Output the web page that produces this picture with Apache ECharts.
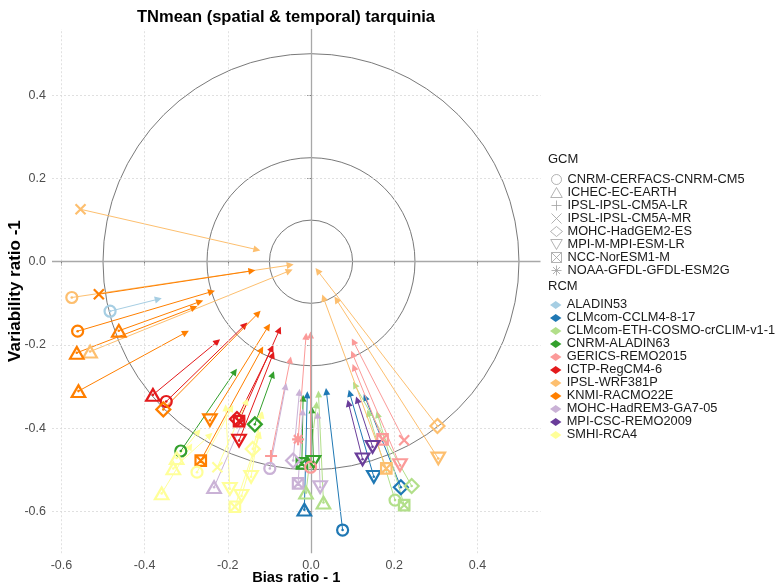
<!DOCTYPE html>
<html><head><meta charset="utf-8">
<script src="https://cdn.jsdelivr.net/npm/echarts@6/dist/echarts.min.js"></script>
<style>html,body{margin:0;padding:0;background:#fff}#c{width:780px;height:585px}</style>
</head><body><div id="c"></div>
<script>
const rcmNames = ['ALADIN53','CLMcom-CCLM4-8-17','CLMcom-ETH-COSMO-crCLIM-v1-1','CNRM-ALADIN63','GERICS-REMO2015','ICTP-RegCM4-6','IPSL-WRF381P','KNMI-RACMO22E','MOHC-HadREM3-GA7-05','MPI-CSC-REMO2009','SMHI-RCA4'];
const gcmNames = ['CNRM-CERFACS-CNRM-CM5','ICHEC-EC-EARTH','IPSL-IPSL-CM5A-LR','IPSL-IPSL-CM5A-MR','MOHC-HadGEM2-ES','MPI-M-MPI-ESM-LR','NCC-NorESM1-M','NOAA-GFDL-GFDL-ESM2G'];
const rcmColors = ['#A6CEE3','#1F78B4','#B2DF8A','#33A02C','#FB9A99','#E31A1C','#FDBF6F','#FF7F00','#CAB2D6','#6A3D9A','#FFFF99'];

// one entry per simulation
const runRcm    = [6,6,7,6,0,7,7,7,7,5,5,7,7,7,5,5,5,3,3,3,3,4,4,4,4,4,4,8,8,8,8,8,1,1,1,1,9,9,2,2,2,2,2,6,6,6,10,10,10,10,10,10,10,10,10,10];
const runGcm    = [3,0,3,1,0,0,1,1,1,1,0,4,5,6,6,4,5,0,4,6,5,2,7,0,6,3,5,1,0,4,6,5,1,0,5,4,5,5,1,1,4,0,6,4,5,6,1,1,1,0,3,5,5,5,4,6];
const biasStart = [-0.554,-0.575,-0.510,-0.531,-0.483,-0.561,-0.462,-0.563,-0.559,-0.380,-0.348,-0.355,-0.243,-0.265,-0.173,-0.178,-0.173,-0.313,-0.135,-0.022,0.006,-0.096,-0.031,-0.001,0.172,0.224,0.214,-0.233,-0.099,-0.043,-0.031,0.022,-0.016,0.076,0.151,0.216,0.124,0.148,-0.012,0.030,0.242,0.202,0.224,0.304,0.306,0.181,-0.359,-0.331,-0.323,-0.274,-0.225,-0.195,-0.167,-0.144,-0.140,-0.183];
const varStart  = [0.126,-0.086,-0.078,-0.216,-0.119,-0.167,-0.166,-0.219,-0.311,-0.320,-0.336,-0.355,-0.381,-0.478,-0.383,-0.378,-0.430,-0.455,-0.391,-0.485,-0.481,-0.467,-0.427,-0.494,-0.427,-0.429,-0.489,-0.542,-0.497,-0.478,-0.533,-0.542,-0.596,-0.645,-0.517,-0.542,-0.475,-0.445,-0.555,-0.579,-0.539,-0.573,-0.585,-0.395,-0.473,-0.497,-0.557,-0.497,-0.472,-0.506,-0.494,-0.546,-0.563,-0.517,-0.450,-0.589];
const biasEnd   = [-0.130,-0.050,-0.142,-0.052,-0.367,-0.239,-0.267,-0.281,-0.301,-0.225,-0.159,-0.127,-0.103,-0.119,-0.076,-0.094,-0.092,-0.183,-0.092,-0.019,0.002,-0.050,-0.012,-0.001,0.103,0.102,0.100,-0.163,-0.061,-0.028,-0.020,0.016,-0.009,0.037,0.093,0.130,0.090,0.111,0.013,0.018,0.105,0.138,0.160,0.016,0.061,0.030,-0.290,-0.243,-0.271,-0.191,-0.155,-0.205,-0.124,-0.120,-0.118,-0.125];
const varEnd    = [0.029,-0.008,-0.022,-0.022,-0.090,-0.072,-0.096,-0.110,-0.170,-0.192,-0.152,-0.124,-0.156,-0.211,-0.164,-0.208,-0.224,-0.264,-0.271,-0.328,-0.356,-0.236,-0.179,-0.176,-0.254,-0.192,-0.222,-0.381,-0.300,-0.314,-0.361,-0.369,-0.320,-0.312,-0.316,-0.326,-0.340,-0.332,-0.344,-0.318,-0.296,-0.364,-0.367,-0.022,-0.091,-0.087,-0.444,-0.417,-0.409,-0.352,-0.336,-0.351,-0.416,-0.368,-0.368,-0.416];

const circleRadii = [0.1, 0.25, 0.5];
const xTicks = [-0.6, -0.4, -0.2, 0.0, 0.2, 0.4];
const yTicks = [-0.6, -0.4, -0.2, 0.0, 0.2, 0.4];

const gcmSymbols = [
  'circle',
  'path://M5,0L10,8.66L0,8.66Z',
  'path://M5,0V10M0,5H10',
  'path://M0,0L10,10M10,0L0,10',
  'diamond',
  'path://M0,0L10,0L5,8.66Z',
  'path://M0,0H10V10H0ZM0,0L10,10M10,0L0,10',
  'path://M5,0V10M0,5H10M1.5,1.5L8.5,8.5M8.5,1.5L1.5,8.5'
];
const gcmSizes = [11, [13.5, 11.7], 12, 10, 14, [13.5, 11.7], 10.5, 12];

const chart = echarts.init(document.getElementById('c'), null, {renderer: 'canvas'});
const series = [];

series.push({
  type: 'scatter', data: [], silent: true, z: 1,
  markLine: {
    silent: true, symbol: ['none', 'none'], label: {show: false},
    lineStyle: {color: '#d9d9d9', type: [2, 2], width: 0.8},
    emphasis: {disabled: true},
    data: xTicks.filter(v => v !== 0).map(v => ({xAxis: v})).concat(yTicks.filter(v => v !== 0).map(v => ({yAxis: v})))
  }
});
series.push({
  type: 'scatter', data: [], silent: true, z: 2,
  markLine: {
    silent: true, symbol: ['none', 'none'], label: {show: false},
    lineStyle: {color: '#a8a8a8', type: 'solid', width: 1.3},
    emphasis: {disabled: true},
    data: [{xAxis: 0}, {yAxis: 0}]
  }
});
series.push({
  type: 'custom', silent: true, z: 3,
  data: circleRadii.map(r => [r]),
  encode: {x: -1, y: -1},
  renderItem: (params, api) => {
    const r = api.value(0);
    const c = api.coord([0, 0]);
    const e = api.coord([r, 0]);
    return {type: 'circle', shape: {cx: c[0], cy: c[1], r: e[0] - c[0]},
            style: {fill: 'none', stroke: '#6a6a6a', lineWidth: 0.9}};
  }
});

gcmNames.forEach((g, i) => {
  series.push({type: 'scatter', name: g, data: [], silent: true});
});

rcmNames.forEach((name, k) => {
  const idx = runRcm.map((r, i) => r === k ? i : -1).filter(i => i >= 0);
  series.push({
    type: 'lines', name: name, coordinateSystem: 'cartesian2d', z: 4, silent: true,
    symbol: ['none', 'triangle'], symbolSize: 7,
    lineStyle: {color: rcmColors[k], width: 1, opacity: 1},
    data: idx.map(i => ({coords: [[biasStart[i], varStart[i]], [biasEnd[i], varEnd[i]]]}))
  });
  series.push({
    type: 'scatter', name: name, z: 5, silent: true,
    itemStyle: {color: 'rgba(255,255,255,0)', borderColor: rcmColors[k], borderWidth: 2.2, opacity: 1},
    data: idx.map(i => ({value: [biasStart[i], varStart[i]], symbol: gcmSymbols[runGcm[i]], symbolSize: gcmSizes[runGcm[i]]}))
  });
  series.push({
    type: 'scatter', name: name, z: 6, silent: true,
    symbol: 'circle', symbolSize: 2.6,
    itemStyle: {color: rcmColors[k], opacity: 1},
    data: idx.map(i => [biasStart[i], varStart[i]])
  });
});

const option = {
  animation: false,
  backgroundColor: '#ffffff',
  title: [
    {text: 'TNmean (spatial & temporal) tarquinia', left: 286, top: 9, textAlign: 'center', padding: 0,
     textStyle: {fontFamily: 'Liberation Sans', fontSize: 16.5, fontWeight: 'bold', color: '#000'}},
    {text: 'GCM', left: 548, top: 153, padding: 0,
     textStyle: {fontFamily: 'Liberation Sans', fontSize: 13, fontWeight: 'normal', color: '#1a1a1a'}},
    {text: 'RCM', left: 548, top: 280, padding: 0,
     textStyle: {fontFamily: 'Liberation Sans', fontSize: 13, fontWeight: 'normal', color: '#1a1a1a'}}
  ],
  grid: {left: 52, top: 29, width: 488.5, height: 524.2, containLabel: false, outerBoundsMode: 'none'},
  xAxis: {
    type: 'value', min: -0.6226, max: 0.5517,
    name: 'Bias ratio - 1', nameLocation: 'middle', nameGap: 17, nameMoveOverlap: false,
    nameTextStyle: {fontFamily: 'Liberation Sans', fontSize: 14.7, fontWeight: 'bold', color: '#000'},
    axisLine: {show: false},
    axisTick: {show: true, customValues: xTicks, length: 3.7, lineStyle: {color: '#4d4d4d', width: 0.8}},
    axisLabel: {customValues: xTicks, margin: 6, formatter: v => v.toFixed(1),
      fontFamily: 'Liberation Sans', fontSize: 12.5, color: '#4d4d4d'},
    splitLine: {show: false}
  },
  yAxis: {
    type: 'value', min: -0.7007, max: 0.5594,
    name: 'Variability ratio -1', nameLocation: 'middle', nameGap: 28.5, nameMoveOverlap: false,
    nameTextStyle: {fontFamily: 'Liberation Sans', fontSize: 17, fontWeight: 'bold', color: '#000'},
    axisLine: {show: false},
    axisTick: {show: true, customValues: yTicks, length: 3.7, lineStyle: {color: '#4d4d4d', width: 0.8}},
    axisLabel: {customValues: yTicks, margin: 6, formatter: v => v.toFixed(1),
      fontFamily: 'Liberation Sans', fontSize: 12.5, color: '#4d4d4d'},
    splitLine: {show: false}
  },
  legend: [
    {
      orient: 'vertical', left: 550, top: 173, itemGap: 0, itemWidth: 12, itemHeight: 10, padding: 0,
      selectedMode: false,
      textStyle: {fontFamily: 'Liberation Sans', fontSize: 12.8, color: '#1a1a1a', lineHeight: 11.6},
      data: gcmNames.map((g, i) => ({name: g, icon: gcmSymbols[i],
        itemStyle: {color: 'rgba(255,255,255,0)', borderColor: '#a0a0a0', borderWidth: 1}}))
    },
    {
      orient: 'vertical', left: 550, top: 298.4, itemGap: 0, itemWidth: 12, itemHeight: 8, padding: 0,
      selectedMode: false,
      textStyle: {fontFamily: 'Liberation Sans', fontSize: 12.8, color: '#1a1a1a', lineHeight: 11.9},
      data: rcmNames.map((r, k) => ({name: r, icon: 'path://M0,3.5L5,0L10,3.5L5,7Z',
        itemStyle: {color: rcmColors[k], borderWidth: 0}}))
    }
  ],
  series: series
};
chart.setOption(option);
</script>
</body></html>
